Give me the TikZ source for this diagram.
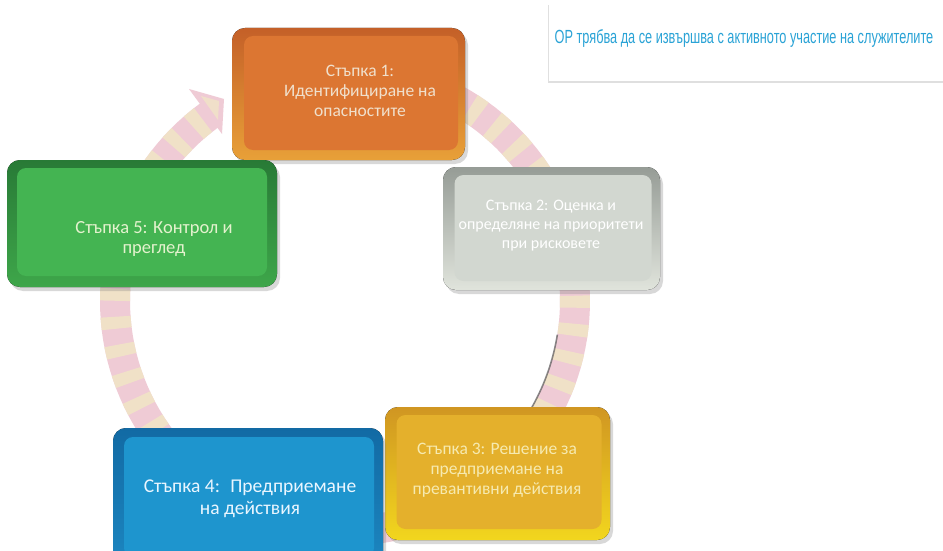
\documentclass[tikz,border=0pt]{standalone}
\usepackage{fontspec}
\setmainfont{Carlito}
\newfontfamily\narrowfont[FakeStretch=0.67]{Liberation Sans}
\usetikzlibrary{shadows}
\definecolor{ringpink}{HTML}{EFCBD5}
\definecolor{ringcream}{HTML}{F1E4C6}
\definecolor{titleblue}{HTML}{2AA3D6}
\tikzset{
  outerbox/.style={rounded corners=13pt, drop shadow={shadow xshift=3pt, shadow yshift=-4pt, opacity=0.3}},
  facebox/.style={rectangle, rounded corners=9pt, inner sep=0pt},
  steptext/.style={align=center, inner sep=0pt, font=\fontsize{17.5}{20}\selectfont},
  ringband/.style={line width=30pt, line cap=butt},
}
\begin{document}
\begin{tikzpicture}[x=1pt,y=-1pt]
\useasboundingbox (0,0) rectangle (943,551);
\fill[white] (0,0) rectangle (943,551);

% cycle ring
\coordinate (rc) at (345,301);
\draw[ringband, ringpink] plot[domain=268:594, samples=140] ({345+230*cos(\x)},{301+230*sin(\x)});
\draw[ringband, ringcream, dash pattern=on 12pt off 16pt, opacity=0.9] plot[domain=268:594, samples=140] ({345+230*cos(\x)},{301+230*sin(\x)});
\fill[ringpink] (189,89) -- (224,99) -- (222,134) -- cycle;
\fill[ringcream, opacity=0.8] (201,96) -- (219,101) -- (218,120) -- cycle;
\draw[black!65, line width=1.6pt, opacity=0.7] plot[domain=9:33, samples=20] ({345+215*cos(\x)},{301+215*sin(\x)});

% step 1
\fill[outerbox, top color={rgb,255:red,196;green,96;blue,40}, bottom color={rgb,255:red,232;green,160;blue,56}] (232,28) rectangle (465,160);
\node[facebox, fill={rgb,255:red,220;green,118;blue,50}, minimum width=214pt, minimum height=114pt] (s1) at (351,93) {};
\node[steptext, text={rgb,255:red,240;green,224;blue,204}] (s1t) at (360,91) {Стъпка 1:\\Идентифициране на\\опасностите};

% step 2
\fill[outerbox, top color={rgb,255:red,150;green,156;blue,150}, bottom color={rgb,255:red,224;green,228;blue,220}] (443,167) rectangle (660,290);
\node[facebox, fill={rgb,255:red,210;green,215;blue,208}, minimum width=197pt, minimum height=106pt] (s2) at (553,228) {};
\node[steptext, text=white, font=\fontsize{16}{19}\selectfont] (s2t) at (551,226) {Стъпка 2: Оценка и\\определяне на приоритети\\при рисковете};

% step 3
\fill[outerbox, top color={rgb,255:red,208;green,150;blue,34}, bottom color={rgb,255:red,242;green,214;blue,30}] (385,407) rectangle (610,540);
\node[facebox, fill={rgb,255:red,228;green,176;blue,44}, minimum width=205pt, minimum height=114pt] (s3) at (499,472) {};
\node[steptext, text={rgb,255:red,246;green,234;blue,176}] (s3t) at (497,470) {Стъпка 3: Решение за\\предприемане на\\превантивни действия};

% step 4
\fill[outerbox, top color={rgb,255:red,18;green,106;blue,164}, bottom color={rgb,255:red,28;green,134;blue,192}] (113,428) rectangle (383,565);
\node[facebox, fill={rgb,255:red,30;green,149;blue,206}, minimum width=250pt, minimum height=120pt] (s4) at (249,497) {};
\node[steptext, text={rgb,255:red,234;green,246;blue,255}, font=\fontsize{19.5}{22}\selectfont] (s4t) at (250,499) {Стъпка 4:~ Предприемане\\на действия};

% step 5
\fill[outerbox, top color={rgb,255:red,40;green,122;blue,54}, bottom color={rgb,255:red,62;green,166;blue,74}] (7,160) rectangle (277,287);
\node[facebox, fill={rgb,255:red,68;green,180;blue,82}, minimum width=250pt, minimum height=108pt] (s5) at (142,222) {};
\node[steptext, text={rgb,255:red,228;green,242;blue,206}, font=\fontsize{18.5}{20}\selectfont] (s5t) at (154,239) {Стъпка 5: Контрол и\\преглед};

% title box
\fill[white, drop shadow={shadow xshift=0pt, shadow yshift=-2pt, opacity=0.25}] (548,5) rectangle (945,81);
\draw[black!12] (548,81) -- (548,5);
\node[text=titleblue, font=\narrowfont\fontsize{19}{21}\selectfont, inner sep=0pt] (title) at (744,39) {ОР трябва да се извършва с активното участие на служителите};
\end{tikzpicture}
\end{document}
